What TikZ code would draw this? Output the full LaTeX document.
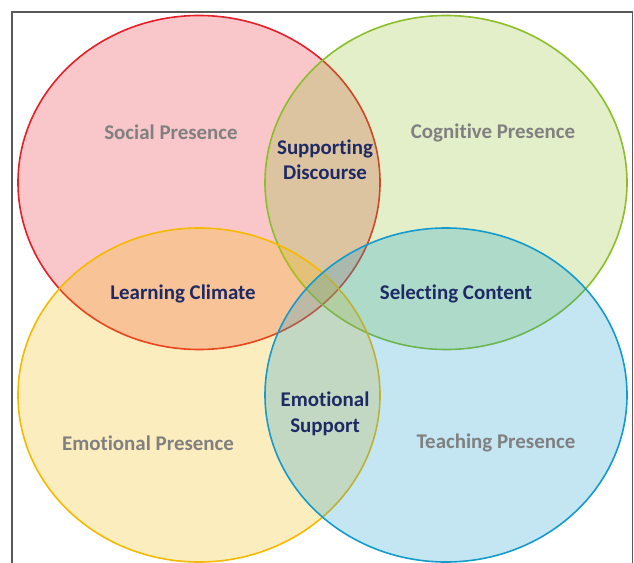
\documentclass[tikz,border=0pt]{standalone}
\usepackage{fontspec}
\setmainfont{Carlito}[Ligatures=NoCommon]
\usetikzlibrary{positioning,shapes.geometric}

\definecolor{socialred}{RGB}{230,30,40}
\definecolor{cognitivegreen}{RGB}{140,190,40}
\definecolor{emotionalyellow}{RGB}{245,185,0}
\definecolor{teachingblue}{RGB}{20,155,205}
\definecolor{presencegray}{RGB}{128,128,128}
\definecolor{overlapnavy}{RGB}{30,42,100}

\begin{document}
\begin{tikzpicture}[x=1bp, y=-1bp,
				presence/.style={ellipse, draw=#1, fill=#1, fill opacity=0.25, draw opacity=1, line width=1.6bp, minimum width=362bp, minimum height=334bp, inner sep=0pt},
				outer/.style={text=presencegray, font=\fontsize{21}{25}\selectfont\bfseries},
				inner/.style={text=overlapnavy, align=center, font=\fontsize{21}{25.5}\selectfont\bfseries}
			]
			\useasboundingbox (0,0) rectangle (634,563);
			\draw[line width=1.2bp, black!65] (12,575) -- (12,12) -- (632.5,12) -- (632.5,575);
			% the four presences
			\node[presence=socialred] (social) at (199,182.5) {};
			\node[presence=cognitivegreen] (cognitive) at (446,182.5) {};
			\node[presence=emotionalyellow] (emotional) at (199,395) {};
			\node[presence=teachingblue] (teaching) at (446,395) {};
			% names
			\node[outer] (socialname) at (171,132) {Social Presence};
			\node[outer] (cognitivename) at (493,133) {Cognitive Presence};
			\node[outer] (emotionalname) at (148,443) {Emotional Presence};
			\node[outer] (teachingname) at (496,443) {Teaching Presence};
			% overlaps
			\node[inner] (discourse) at (325,160) {Supporting\\Discourse};
			\node[inner] (climate) at (183,294) {Learning Climate};
			\node[inner] (content) at (456,294) {Selecting Content};
			\node[inner] (support) at (325,414) {Emotional\\Support};
			\end{tikzpicture}
\end{document}
